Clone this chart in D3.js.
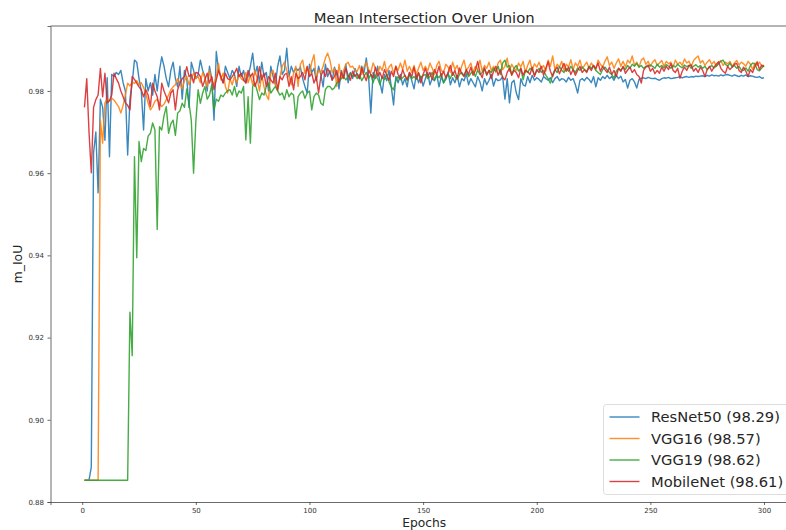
<!DOCTYPE html>
<html>
<head>
<meta charset="utf-8">
<script src="https://cdn.jsdelivr.net/npm/d3@7"></script>
<style>
  body { margin: 0; background: #fff; }
  text { font-family: "DejaVu Sans", sans-serif; }
</style>
</head>
<body>
<div id="chart"></div>
<script>
// mIoU per epoch (epochs 1..300)
var resnet50 = [
  .8853,.8853,.8853,.8885,.9650,.9700,.9552,.9780,.9760,.9680,
  .9832,.9640,.9840,.9835,.9845,.9840,.9850,.9820,.9800,.9644,
  .9780,.9820,.9875,.9870,.9830,.9800,.9705,.9830,.9800,.9820,
  .9790,.9840,.9800,.9850,.9883,.9860,.9830,.9810,.9850,.9870,
  .9830,.9810,.9860,.9780,.9850,.9830,.9760,.9870,.9850,.9830,
  .9840,.9875,.9850,.9835,.9800,.9860,.9830,.9729,.9896,.9850,
  .9835,.9820,.9860,.9845,.9830,.9850,.9840,.9811,.9860,.9835,
  .9850,.9820,.9835,.9860,.9892,.9840,.9860,.9820,.9870,.9835,
  .9845,.9800,.9860,.9835,.9815,.9860,.9885,.9840,.9850,.9904,
  .9835,.9860,.9845,.9855,.9850,.9858,.9830,.9811,.9795,.9865,
  .9845,.9855,.9825,.9860,.9840,.9810,.9865,.9835,.9850,.9826,
  .9858,.9840,.9805,.9850,.9835,.9865,.9820,.9845,.9830,.9855,
  .9840,.9830,.9860,.9845,.9880,.9835,.9746,.9845,.9830,.9860,
  .9820,.9795,.9840,.9825,.9850,.9810,.9766,.9835,.9820,.9840,
  .9815,.9830,.9810,.9845,.9825,.9805,.9840,.9820,.9835,.9812,
  .9830,.9845,.9815,.9830,.9825,.9840,.9810,.9835,.9820,.9828,
  .9845,.9815,.9832,.9820,.9838,.9810,.9830,.9825,.9842,.9815,
  .9830,.9820,.9810,.9835,.9822,.9800,.9830,.9815,.9826,.9840,
  .9812,.9830,.9825,.9827,.9835,.9780,.9830,.9771,.9820,.9826,
  .9795,.9779,.9830,.9815,.9812,.9835,.9820,.9838,.9826,.9832,
  .9828,.9822,.9835,.9830,.9826,.9832,.9820,.9830,.9835,.9825,
  .9830,.9828,.9822,.9833,.9826,.9830,.9815,.9795,.9826,.9830,
  .9825,.9833,.9828,.9820,.9835,.9810,.9832,.9826,.9835,.9830,
  .9838,.9830,.9835,.9826,.9838,.9830,.9836,.9822,.9828,.9807,
  .9826,.9830,.9822,.9807,.9828,.9831,.9832,.9830,.9833,.9831,
  .9830,.9831,.9828,.9826,.9830,.9832,.9831,.9833,.9830,.9831,
  .9832,.9833,.9835,.9832,.9834,.9835,.9833,.9835,.9834,.9836,
  .9835,.9836,.9837,.9835,.9838,.9836,.9839,.9837,.9838,.9836,
  .9839,.9837,.9839,.9840,.9838,.9836,.9839,.9837,.9835,.9838,
  .9836,.9839,.9835,.9837,.9836,.9834,.9833,.9835,.9831,.9832
];

var vgg16 = [
  .8853,.8853,.8853,.8853,.8853,.8853,.8853,.9729,.9673,.9771,
  .9780,.9776,.9782,.9778,.9770,.9762,.9746,.9765,.9790,.9819,
  .9812,.9822,.9818,.9825,.9815,.9820,.9808,.9795,.9770,.9754,
  .9762,.9775,.9780,.9770,.9762,.9768,.9779,.9790,.9803,.9810,
  .9815,.9830,.9820,.9805,.9825,.9835,.9815,.9830,.9843,.9830,
  .9835,.9820,.9845,.9830,.9810,.9850,.9825,.9815,.9835,.9867,
  .9827,.9843,.9811,.9795,.9830,.9815,.9835,.9820,.9840,.9830,
  .9825,.9845,.9820,.9838,.9815,.9850,.9830,.9800,.9840,.9810,
  .9790,.9779,.9843,.9850,.9815,.9800,.9835,.9860,.9870,.9850,
  .9835,.9815,.9843,.9860,.9811,.9865,.9875,.9843,.9860,.9840,
  .9870,.9888,.9830,.9850,.9845,.9860,.9880,.9892,.9875,.9845,
  .9855,.9811,.9865,.9830,.9850,.9865,.9870,.9858,.9860,.9850,
  .9848,.9862,.9840,.9858,.9870,.9852,.9845,.9868,.9855,.9840,
  .9860,.9850,.9872,.9845,.9858,.9865,.9842,.9860,.9850,.9868,
  .9852,.9875,.9848,.9860,.9845,.9862,.9840,.9855,.9870,.9850,
  .9860,.9848,.9868,.9855,.9840,.9862,.9872,.9850,.9845,.9865,
  .9858,.9845,.9870,.9852,.9862,.9842,.9860,.9875,.9850,.9858,
  .9868,.9845,.9860,.9852,.9875,.9848,.9862,.9855,.9870,.9850,
  .9860,.9845,.9868,.9875,.9852,.9860,.9880,.9848,.9865,.9855,
  .9850,.9868,.9858,.9872,.9845,.9862,.9875,.9850,.9866,.9858,
  .9870,.9855,.9862,.9848,.9875,.9860,.9885,.9852,.9865,.9858,
  .9872,.9850,.9865,.9858,.9876,.9852,.9868,.9860,.9875,.9855,
  .9862,.9870,.9855,.9868,.9860,.9852,.9875,.9865,.9858,.9872,
  .9883,.9862,.9870,.9855,.9868,.9878,.9860,.9872,.9858,.9875,
  .9868,.9885,.9862,.9870,.9858,.9875,.9880,.9865,.9872,.9860,
  .9870,.9876,.9862,.9868,.9874,.9860,.9872,.9866,.9870,.9858,
  .9875,.9865,.9870,.9862,.9878,.9868,.9872,.9860,.9874,.9880,
  .9885,.9868,.9874,.9862,.9870,.9876,.9865,.9872,.9860,.9868,
  .9874,.9862,.9870,.9866,.9872,.9860,.9868,.9874,.9863,.9870,
  .9866,.9860,.9872,.9865,.9852,.9868,.9862,.9870,.9860,.9863
];

var vgg19 = [
  .8853,.8853,.8853,.8853,.8853,.8853,.8853,.8853,.8853,.8853,
  .8853,.8853,.8853,.8853,.8853,.8853,.8853,.8853,.8853,.8853,
  .9262,.9156,.9640,.9394,.9677,.9628,.9660,.9655,.9690,.9697,
  .9722,.9705,.9463,.9713,.9705,.9740,.9762,.9697,.9720,.9729,
  .9692,.9746,.9752,.9770,.9760,.9805,.9770,.9729,.9600,.9725,
  .9803,.9770,.9795,.9811,.9780,.9790,.9815,.9754,.9780,.9775,
  .9790,.9786,.9795,.9800,.9803,.9790,.9811,.9786,.9800,.9795,
  .9811,.9681,.9786,.9673,.9811,.9819,.9800,.9779,.9795,.9790,
  .9811,.9819,.9795,.9803,.9811,.9800,.9790,.9795,.9779,.9803,
  .9786,.9795,.9790,.9733,.9786,.9795,.9800,.9782,.9795,.9800,
  .9754,.9786,.9795,.9790,.9770,.9765,.9803,.9811,.9811,.9803,
  .9808,.9819,.9825,.9830,.9835,.9827,.9835,.9843,.9835,.9840,
  .9830,.9840,.9825,.9835,.9845,.9830,.9840,.9820,.9838,.9830,
  .9815,.9835,.9828,.9840,.9822,.9810,.9803,.9825,.9835,.9827,
  .9832,.9838,.9825,.9840,.9830,.9835,.9828,.9843,.9833,.9838,
  .9840,.9830,.9835,.9845,.9827,.9838,.9832,.9842,.9819,.9835,
  .9840,.9830,.9845,.9835,.9828,.9840,.9845,.9838,.9850,.9835,
  .9843,.9848,.9835,.9851,.9840,.9845,.9855,.9838,.9850,.9845,
  .9855,.9848,.9860,.9840,.9868,.9875,.9858,.9862,.9840,.9855,
  .9862,.9848,.9855,.9827,.9850,.9845,.9855,.9851,.9840,.9848,
  .9855,.9845,.9850,.9838,.9830,.9819,.9840,.9852,.9845,.9859,
  .9850,.9845,.9855,.9848,.9860,.9852,.9845,.9856,.9850,.9858,
  .9852,.9848,.9860,.9855,.9862,.9850,.9845,.9840,.9852,.9858,
  .9851,.9845,.9840,.9831,.9848,.9855,.9850,.9858,.9852,.9862,
  .9855,.9865,.9860,.9867,.9858,.9862,.9855,.9860,.9859,.9863,
  .9860,.9855,.9865,.9858,.9862,.9856,.9864,.9860,.9855,.9862,
  .9858,.9865,.9860,.9856,.9863,.9859,.9862,.9855,.9860,.9864,
  .9858,.9862,.9855,.9860,.9852,.9858,.9862,.9856,.9860,.9866,
  .9872,.9875,.9865,.9860,.9868,.9858,.9862,.9855,.9860,.9851,
  .9850,.9856,.9848,.9862,.9868,.9865,.9852,.9849,.9856,.9862
];

var mobilenet = [
  .9760,.9830,.9700,.9601,.9760,.9779,.9790,.9855,.9786,.9843,
  .9771,.9776,.9790,.9843,.9830,.9819,.9800,.9786,.9771,.9765,
  .9754,.9835,.9828,.9819,.9810,.9803,.9786,.9803,.9790,.9762,
  .9819,.9800,.9786,.9754,.9819,.9800,.9786,.9771,.9795,.9803,
  .9754,.9803,.9819,.9830,.9835,.9859,.9835,.9840,.9820,.9845,
  .9843,.9835,.9811,.9827,.9843,.9819,.9835,.9803,.9827,.9850,
  .9835,.9819,.9843,.9830,.9827,.9835,.9843,.9855,.9835,.9843,
  .9827,.9819,.9850,.9835,.9843,.9811,.9827,.9859,.9827,.9843,
  .9811,.9835,.9827,.9819,.9843,.9803,.9835,.9827,.9840,.9843,
  .9811,.9835,.9803,.9843,.9830,.9835,.9845,.9827,.9859,.9835,
  .9843,.9819,.9835,.9795,.9835,.9850,.9835,.9855,.9843,.9827,
  .9835,.9850,.9820,.9845,.9830,.9855,.9838,.9826,.9848,.9835,
  .9842,.9830,.9855,.9838,.9825,.9850,.9840,.9832,.9858,.9836,
  .9845,.9830,.9852,.9838,.9826,.9848,.9835,.9860,.9840,.9830,
  .9852,.9837,.9828,.9845,.9835,.9858,.9830,.9845,.9820,.9840,
  .9855,.9835,.9845,.9828,.9852,.9840,.9860,.9835,.9848,.9832,
  .9845,.9862,.9838,.9850,.9830,.9856,.9842,.9835,.9852,.9840,
  .9858,.9838,.9850,.9872,.9845,.9832,.9856,.9840,.9850,.9830,
  .9848,.9860,.9838,.9852,.9832,.9827,.9845,.9855,.9838,.9850,
  .9845,.9832,.9855,.9838,.9850,.9847,.9840,.9858,.9835,.9852,
  .9845,.9860,.9838,.9855,.9871,.9848,.9835,.9850,.9858,.9842,
  .9855,.9867,.9848,.9858,.9840,.9852,.9838,.9850,.9860,.9845,
  .9852,.9845,.9858,.9850,.9862,.9855,.9868,.9848,.9860,.9852,
  .9845,.9858,.9840,.9850,.9835,.9855,.9848,.9860,.9843,.9851,
  .9858,.9845,.9852,.9840,.9835,.9819,.9850,.9858,.9863,.9848,
  .9855,.9842,.9850,.9843,.9858,.9848,.9860,.9852,.9867,.9850,
  .9845,.9855,.9831,.9848,.9858,.9850,.9862,.9863,.9848,.9855,
  .9845,.9858,.9850,.9835,.9852,.9860,.9848,.9858,.9865,.9871,
  .9855,.9848,.9843,.9860,.9852,.9858,.9865,.9867,.9850,.9845,
  .9858,.9848,.9835,.9852,.9845,.9860,.9871,.9852,.9863,.9859
];

var seriesNames = ["ResNet50 (98.29)", "VGG16 (98.57)", "VGG19 (98.62)", "MobileNet (98.61)"];
var seriesColors = ["#1f77b4", "#ff7f0e", "#2ca02c", "#d62728"];
var xTicks = [0, 50, 100, 150, 200, 250, 300];
var yTicks = [0.88, 0.90, 0.92, 0.94, 0.96, 0.98];

var width = 786;
var height = 530;
var margin = {top: 26, left: 50.5, bottom: 28};
var plotRight = 798; // right spine sits just past the cropped edge

var svg = d3.select("#chart")
  .append("svg")
  .attr("width", width)
  .attr("height", height);

var x = d3.scaleLinear()
    .domain([-13.95, 314.95])
    .range([margin.left, plotRight]);

var y = d3.scaleLinear()
    .domain([0.88, 0.9958])
    .range([height - margin.bottom, margin.top]);

var series = [resnet50, vgg16, vgg19, mobilenet];

var line = d3.line()
    .x(function(d, i) { return x(i + 1); })
    .y(function(d) { return y(d); });

// lines, blue first so red ends on top
svg.append("g")
  .selectAll("path")
  .data(series)
  .enter().append("path")
    .attr("d", line)
    .attr("fill", "none")
    .attr("stroke", function(d, i) { return seriesColors[i]; })
    .attr("stroke-width", 1.4)
    .attr("stroke-opacity", 0.88)
    .attr("stroke-linejoin", "round");

// axes
var xAxis = svg.append("g")
    .attr("transform", "translate(0," + y(0.88) + ")")
    .call(d3.axisBottom(x).tickValues(xTicks).tickSize(3).tickPadding(3.5).tickFormat(d3.format("d")));

var yAxis = svg.append("g")
    .attr("transform", "translate(" + margin.left + ",0)")
    .call(d3.axisLeft(y).tickValues(yTicks).tickSize(3).tickPadding(3.5).tickFormat(d3.format(".2f")));

[xAxis, yAxis].forEach(function(a) {
  a.select(".domain").attr("stroke", "#444").attr("stroke-width", 0.8);
  a.selectAll(".tick line").attr("stroke", "#444").attr("stroke-width", 0.8);
  a.selectAll(".tick text")
    .attr("font-family", "DejaVu Sans, sans-serif")
    .attr("font-size", 7)
    .attr("fill", "#333");
});

// top spine
svg.append("line")
    .attr("x1", margin.left).attr("x2", plotRight)
    .attr("y1", y(0.9958)).attr("y2", y(0.9958))
    .attr("stroke", "#444")
    .attr("stroke-width", 0.8);

// titles
var plotMid = (margin.left + plotRight) / 2;

svg.append("text")
    .attr("x", plotMid)
    .attr("y", 22.5)
    .attr("text-anchor", "middle")
    .attr("font-size", 14.8)
    .attr("fill", "#262626")
    .text("Mean Intersection Over Union");

svg.append("text")
    .attr("x", plotMid)
    .attr("y", 526.5)
    .attr("text-anchor", "middle")
    .attr("font-size", 12.3)
    .attr("fill", "#262626")
    .text("Epochs");

svg.append("text")
    .attr("transform", "translate(22," + ((margin.top + y(0.88)) / 2) + ") rotate(-90)")
    .attr("text-anchor", "middle")
    .attr("font-size", 12.3)
    .attr("fill", "#262626")
    .text("m_IoU");

// legend
var legend = svg.append("g")
    .attr("transform", "translate(603.5,404.5)");

legend.append("rect")
    .attr("width", 200)
    .attr("height", 90)
    .attr("rx", 3)
    .attr("fill", "#fff")
    .attr("fill-opacity", 0.8)
    .attr("stroke", "#d4d4d4")
    .attr("stroke-width", 0.8);

var item = legend.selectAll(".item")
  .data(seriesNames)
  .enter().append("g")
    .attr("class", "item")
    .attr("transform", function(d, i) { return "translate(0," + (12.5 + i * 21.5) + ")"; });

item.append("line")
    .attr("x1", 6).attr("x2", 36)
    .attr("stroke", function(d, i) { return seriesColors[i]; })
    .attr("stroke-width", 1.4)
    .attr("stroke-opacity", 0.88);

item.append("text")
    .attr("x", 47.5)
    .attr("dy", "0.36em")
    .attr("font-size", 14.7)
    .attr("fill", "#262626")
    .text(function(d) { return d; });
</script>
</body>
</html>
